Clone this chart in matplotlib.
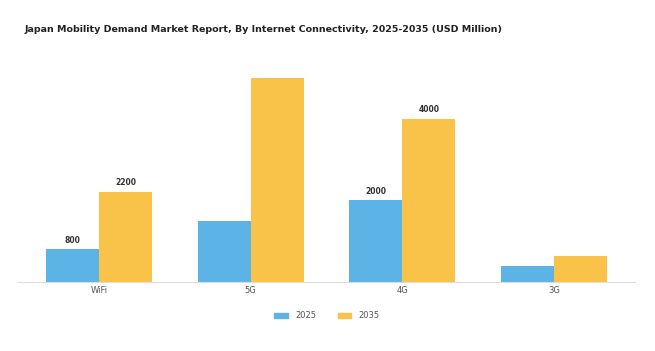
import numpy as np
import matplotlib
matplotlib.use('Agg')
import matplotlib.pyplot as plt
from matplotlib.patches import Patch

# ---- data ----
categories = ["WiFi", "5G", "4G", "3G"]
series_names = ["2025", "2035"]
values_2025 = [800, 1500, 2000, 400]
values_2035 = [2200, 5000, 4000, 650]
# only some bars carry a value label in the original
labels_2025 = ["800", "", "2000", ""]
labels_2035 = ["2200", "", "4000", ""]

BLUE = '#5BB3E6'
YELLOW = '#F9C349'

fig = plt.figure(figsize=(6.55, 3.51), dpi=100)
ax = fig.add_axes([18 / 655, 1 - 282 / 351, 617 / 655, (282 - 66) / 351])

x = np.arange(len(categories))
w = 0.35
b1 = ax.bar(x - w / 2, values_2025, w, color=BLUE, label=series_names[0])
b2 = ax.bar(x + w / 2, values_2035, w, color=YELLOW, label=series_names[1])

for bars, labs in ((b1, labels_2025), (b2, labels_2035)):
    for rect, lab in zip(bars, labs):
        if lab:
            ax.annotate(lab, (rect.get_x() + rect.get_width() / 2, rect.get_height()),
                        textcoords="offset points", xytext=(0, 3.5), ha='center', va='bottom',
                        fontsize=5.5, fontweight='bold', color='#333333')

ax.set_xlim(-0.534, 3.534)
ax.set_ylim(0, 5300)
ax.set_xticks(x)
ax.set_xticklabels(categories, fontsize=6, color='#555555')
ax.tick_params(axis='x', length=0, pad=3)
ax.set_yticks([])
for s in ['top', 'right', 'left']:
    ax.spines[s].set_visible(False)
ax.spines['bottom'].set_color('#dddddd')
ax.spines['bottom'].set_linewidth(0.8)

fig.text(25 / 655, 1 - 30 / 351, "Japan Mobility Demand Market Report, By Internet Connectivity, 2025-2035 (USD Million)",
         fontsize=6.8, fontweight='bold', color='#222222', ha='left', va='center')

handles = [Patch(color=BLUE), Patch(color=YELLOW)]
fig.legend(handles, series_names, loc='center', bbox_to_anchor=(327 / 655, 1 - 316 / 351),
           ncol=2, frameon=False, fontsize=6, handlelength=1.6, handleheight=0.45,
           columnspacing=2.6, handletextpad=0.9, labelcolor='#555555')

fig.savefig("out.png", dpi=100)
